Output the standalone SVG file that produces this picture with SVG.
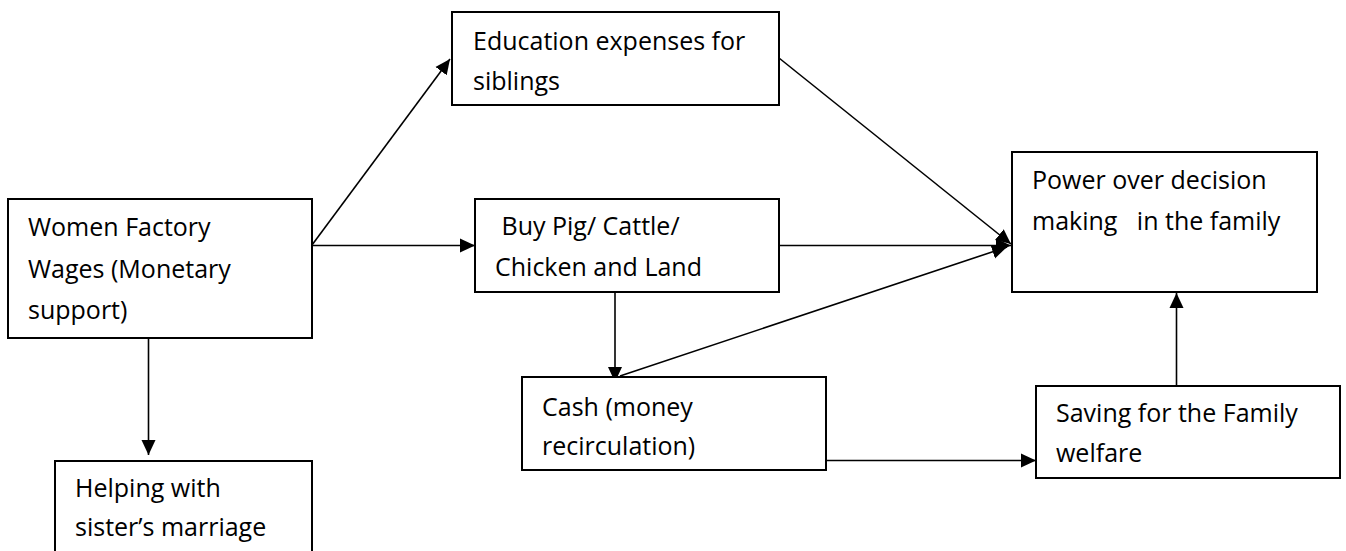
<svg xmlns="http://www.w3.org/2000/svg" width="1346" height="551" viewBox="0 0 1346 551">
<style>
.box{fill:#fff;stroke:#000;stroke-width:2}
.lbl{font-family:"Open Sans","Liberation Sans",sans-serif;font-size:25px;fill:#000;white-space:pre}
.con{stroke:#000;stroke-width:1.6;fill:none}
</style>
<defs>
<marker id="ah" markerUnits="userSpaceOnUse" markerWidth="16" markerHeight="16" viewBox="0 0 16 16" refX="15" refY="8" orient="auto">
<path d="M0,1 L15,8 L0,15 Z" fill="#000"/>
</marker>
</defs>
<rect width="1346" height="551" fill="#fff"/>
<g id="connectors">
<line class="con" x1="312" y1="245" x2="450" y2="59" marker-end="url(#ah)"/>
<line class="con" x1="312" y1="245.5" x2="475" y2="245.5" marker-end="url(#ah)"/>
<line class="con" x1="148.5" y1="338" x2="148.5" y2="455" marker-end="url(#ah)"/>
<line class="con" x1="779" y1="58" x2="1011" y2="244" marker-end="url(#ah)"/>
<line class="con" x1="779" y1="245.5" x2="1011" y2="245.5" marker-end="url(#ah)"/>
<line class="con" x1="615" y1="292" x2="615" y2="382" marker-end="url(#ah)"/>
<line class="con" x1="620" y1="376" x2="1007" y2="247" marker-end="url(#ah)"/>
<line class="con" x1="826" y1="460.5" x2="1036" y2="460.5" marker-end="url(#ah)"/>
<line class="con" x1="1176.5" y1="386" x2="1176.5" y2="293" marker-end="url(#ah)"/>
</g>
<g id="women">
<rect class="box" x="8" y="199" width="304" height="139"/>
<text class="lbl" x="28" y="236">Women Factory</text>
<text class="lbl" x="28" y="277.5">Wages (Monetary</text>
<text class="lbl" x="28" y="318.5">support)</text>
</g>
<g id="education">
<rect class="box" x="452" y="12" width="327" height="93"/>
<text class="lbl" x="473" y="49.5">Education expenses for</text>
<text class="lbl" x="473" y="89.5">siblings</text>
</g>
<g id="buy">
<rect class="box" x="475" y="199" width="304" height="93"/>
<text class="lbl" x="495" y="235"> Buy Pig/ Cattle/</text>
<text class="lbl" x="495" y="276">Chicken and Land</text>
</g>
<g id="power">
<rect class="box" x="1012" y="152" width="305" height="140"/>
<text class="lbl" x="1032" y="188.5">Power over decision</text>
<text class="lbl" x="1032" y="230">making   in the family</text>
</g>
<g id="cash">
<rect class="box" x="522" y="377" width="304" height="93"/>
<text class="lbl" x="542" y="416">Cash (money</text>
<text class="lbl" x="542" y="455">recirculation)</text>
</g>
<g id="saving">
<rect class="box" x="1036" y="386" width="304" height="92"/>
<text class="lbl" x="1056" y="422">Saving for the Family</text>
<text class="lbl" x="1056" y="462">welfare</text>
</g>
<g id="helping">
<rect class="box" x="55" y="461" width="257" height="100"/>
<text class="lbl" x="75" y="497">Helping with</text>
<text class="lbl" x="75" y="536">sister’s marriage</text>
</g>
</svg>
